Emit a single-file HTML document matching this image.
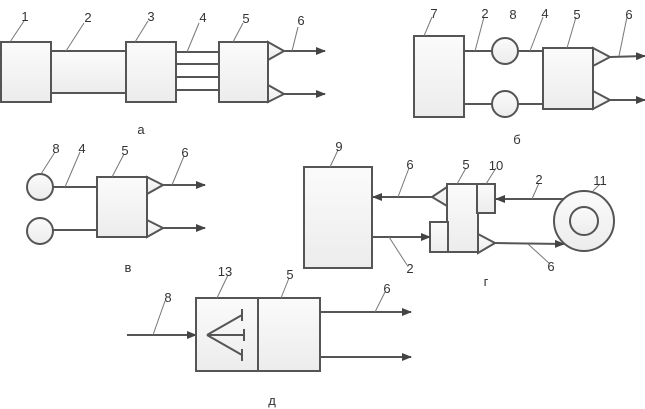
<!DOCTYPE html>
<html><head><meta charset="utf-8"><style>
html,body{margin:0;padding:0;background:#fff;}
svg{display:block;}
text{font-family:"Liberation Sans","DejaVu Sans",sans-serif;font-size:13px;fill:#333;text-anchor:middle;}
</style></head><body>
<svg width="645" height="409" viewBox="0 0 645 409" xmlns="http://www.w3.org/2000/svg">
<defs>
<linearGradient id="g" x1="0" y1="0" x2="0" y2="1"><stop offset="0" stop-color="#fbfbfb"/><stop offset="1" stop-color="#ececec"/></linearGradient>
<marker id="ar" markerWidth="10" markerHeight="8" refX="9" refY="4" orient="auto" markerUnits="userSpaceOnUse"><path d="M0,0 L10,4 L0,8 Z" fill="#444"/></marker>
</defs>
<g stroke="#555" stroke-width="2" fill="url(#g)">
<!-- a -->
<rect x="1" y="42" width="50" height="60"/>
<rect x="51" y="51" width="75" height="42"/>
<rect x="126" y="42" width="50" height="60"/>
<line x1="176" y1="52" x2="219" y2="52"/><line x1="176" y1="64" x2="219" y2="64"/><line x1="176" y1="77" x2="219" y2="77"/><line x1="176" y1="90" x2="219" y2="90"/>
<rect x="219" y="42" width="49" height="60"/>
<path d="M268,42 L284,51 L268,60 Z"/><path d="M268,85 L284,94 L268,102 Z"/>
<line x1="284" y1="51" x2="325" y2="51" marker-end="url(#ar)"/>
<line x1="284" y1="94" x2="325" y2="94" marker-end="url(#ar)"/>
<!-- б -->
<rect x="414" y="36" width="50" height="81"/>
<line x1="464" y1="51" x2="492" y2="51"/><line x1="464" y1="104" x2="492" y2="104"/>
<circle cx="505" cy="51" r="13"/><circle cx="505" cy="104" r="13"/>
<line x1="518" y1="51" x2="543" y2="51"/><line x1="518" y1="104" x2="543" y2="104"/>
<rect x="543" y="48" width="50" height="61"/>
<path d="M593,48 L610,57 L593,66 Z"/><path d="M593,91 L610,100 L593,109 Z"/>
<line x1="610" y1="57" x2="645" y2="56" marker-end="url(#ar)"/>
<line x1="610" y1="100" x2="645" y2="100" marker-end="url(#ar)"/>
<!-- в -->
<circle cx="40" cy="187" r="13"/><circle cx="40" cy="231" r="13"/>
<line x1="53" y1="187" x2="97" y2="187"/><line x1="53" y1="230" x2="97" y2="230"/>
<rect x="97" y="177" width="50" height="60"/>
<path d="M147,177 L163,185 L147,194 Z"/><path d="M147,220 L163,228 L147,237 Z"/>
<line x1="163" y1="185" x2="205" y2="185" marker-end="url(#ar)"/>
<line x1="163" y1="228" x2="205" y2="228" marker-end="url(#ar)"/>
<!-- г -->
<rect x="304" y="167" width="68" height="101"/>
<rect x="447" y="184" width="31" height="68"/>
<rect x="477" y="184" width="18" height="29"/>
<rect x="430" y="222" width="18" height="30"/>
<path d="M447,187 L432,197 L447,206 Z"/>
<path d="M478,234 L495,243 L478,253 Z"/>
<line x1="432" y1="197" x2="373" y2="197" marker-end="url(#ar)"/>
<line x1="372" y1="237" x2="430" y2="237" marker-end="url(#ar)"/>
<line x1="495" y1="243" x2="564" y2="244" marker-end="url(#ar)"/>
<line x1="565" y1="199" x2="496" y2="199" marker-end="url(#ar)"/>
<circle cx="584" cy="221" r="30"/><circle cx="584" cy="221" r="14"/>
<!-- д -->
<line x1="7" y1="335" x2="196" y2="335" stroke="none"/>
<line x1="127" y1="335" x2="196" y2="335" marker-end="url(#ar)"/>
<rect x="196" y="298" width="62" height="73"/>
<rect x="258" y="298" width="62" height="73"/>
<line x1="320" y1="312" x2="411" y2="312" marker-end="url(#ar)"/>
<line x1="320" y1="357" x2="411" y2="357" marker-end="url(#ar)"/>
<path d="M207,335 L242,315 M207,335 L244,335 M207,335 L242,355 M242,309 L242,321 M244,329 L244,341 M242,349 L242,361" fill="none"/>
</g>
<!-- leaders -->
<g stroke="#777" stroke-width="1">
<line x1="10" y1="42" x2="24" y2="21"/><line x1="66" y1="51" x2="84" y2="23"/><line x1="135" y1="42" x2="148" y2="21"/><line x1="187" y1="52" x2="199" y2="23"/><line x1="233" y1="42" x2="243" y2="23"/><line x1="292" y1="51" x2="298" y2="27"/>
<line x1="424" y1="36" x2="432" y2="17"/><line x1="475" y1="51" x2="484" y2="17"/><line x1="530" y1="51" x2="543" y2="17"/><line x1="567" y1="48" x2="576" y2="17"/><line x1="619" y1="56" x2="627" y2="17"/>
<line x1="41" y1="174" x2="55" y2="152"/><line x1="65" y1="187" x2="80" y2="152"/><line x1="112" y1="177" x2="124" y2="154"/><line x1="172" y1="185" x2="184" y2="156"/>
<line x1="330" y1="167" x2="338" y2="150"/><line x1="398" y1="197" x2="409" y2="168"/><line x1="457" y1="184" x2="466" y2="168"/><line x1="486" y1="184" x2="496" y2="168"/><line x1="532" y1="199" x2="539" y2="183"/><line x1="593" y1="191" x2="600" y2="184"/>
<line x1="389" y1="237" x2="407" y2="265"/><line x1="528" y1="244" x2="550" y2="264"/>
<line x1="153" y1="335" x2="165" y2="301"/><line x1="217" y1="298" x2="228" y2="275"/><line x1="281" y1="298" x2="289" y2="278"/><line x1="375" y1="312" x2="385" y2="292"/>
</g>
<text x="25" y="21">1</text><text x="88" y="22">2</text><text x="151" y="21">3</text><text x="203" y="22">4</text><text x="246" y="23">5</text><text x="301" y="25">6</text>
<text x="141" y="134">а</text>
<text x="434" y="18">7</text><text x="485" y="18">2</text><text x="513" y="19">8</text><text x="545" y="18">4</text><text x="577" y="19">5</text><text x="629" y="19">6</text>
<text x="517" y="144">б</text>
<text x="56" y="153">8</text><text x="82" y="153">4</text><text x="125" y="155">5</text><text x="185" y="157">6</text>
<text x="128" y="272">в</text>
<text x="339" y="151">9</text><text x="410" y="169">6</text><text x="466" y="169">5</text><text x="496" y="170">10</text><text x="539" y="184">2</text><text x="600" y="185">11</text>
<text x="410" y="273">2</text><text x="551" y="271">6</text><text x="486" y="286">г</text>
<text x="168" y="302">8</text><text x="225" y="276">13</text><text x="290" y="279">5</text><text x="387" y="293">6</text>
<text x="272" y="405">д</text>
</svg>
</body></html>
